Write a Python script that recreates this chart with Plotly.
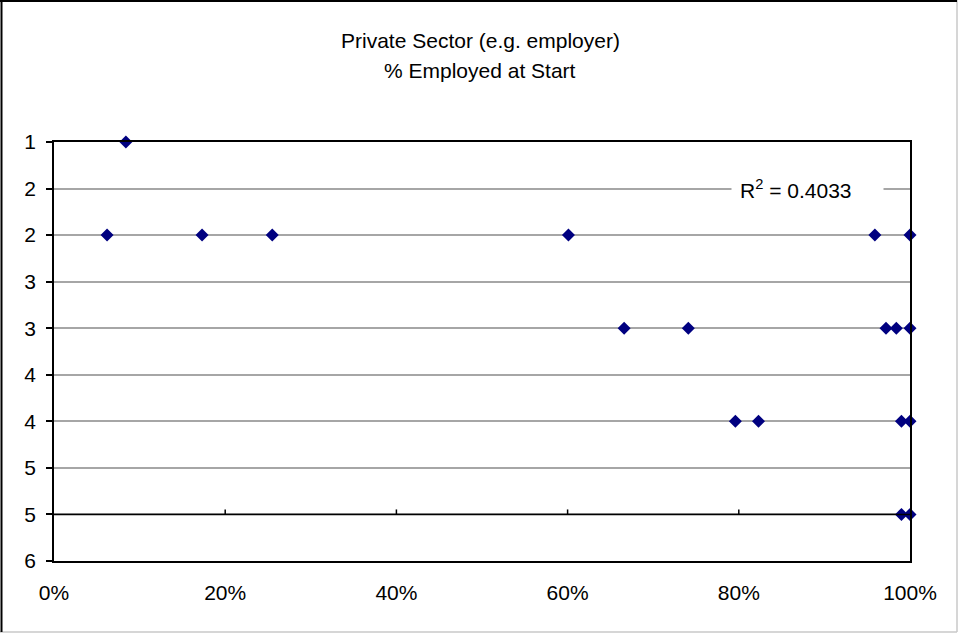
import plotly.graph_objects as go

# ---- data ----
pct_employed = [0.084,
                0.062, 0.173, 0.255, 0.601, 0.959, 1.000,
                0.666, 0.741, 0.972, 0.984, 1.000,
                0.796, 0.823, 0.990, 1.000,
                0.990, 1.000]
rating = [1,
          2, 2, 2, 2, 2, 2,
          3, 3, 3, 3, 3,
          4, 4, 4, 4,
          5, 5]
y_tickvals = [1, 1.5, 2, 2.5, 3, 3.5, 4, 4.5, 5, 5.5]
y_ticktext = ["1", "2", "2", "3", "3", "4", "4", "5", "5", "6"]
x_tickvals = [0, 0.2, 0.4, 0.6, 0.8, 1.0]
x_minor_ticks = [0.2, 0.4, 0.6, 0.8]
r2_text = "R<sup>2</sup> = 0.4033"
title_lines = ["Private Sector (e.g. employer)", "% Employed at Start"]

W, H = 960, 633
ML, MR, MT, MB = 54, 50, 142, 72
PW, PH = W - ML - MR, H - MT - MB

def px_x(px):
    return (px - ML) / PW

def px_y(py):
    return (H - MB - py) / PH

FONT = "Liberation Sans, Arial, sans-serif"
FS = 21

fig = go.Figure()
fig.add_trace(go.Scatter(
    x=pct_employed, y=rating, mode="markers",
    marker=dict(symbol="diamond", size=10, color="#000080",
                line=dict(width=0)),
    cliponaxis=False, showlegend=False, hoverinfo="x+y"))

shapes = []
# x axis line crossing at y = 5
shapes.append(dict(type="line", xref="x", yref="y", x0=0, x1=1, y0=5, y1=5,
                   line=dict(color="black", width=1.5), layer="above"))
for xv in x_minor_ticks:
    shapes.append(dict(type="line", xref="x", yref="y", ysizemode="pixel",
                       yanchor=5, x0=xv, x1=xv, y0=0, y1=5,
                       line=dict(color="black", width=1.5), layer="above"))
# outer chart frame
shapes.append(dict(type="line", xref="paper", yref="paper",
                   x0=px_x(0), x1=px_x(957), y0=px_y(632), y1=px_y(632),
                   line=dict(color="#c8c8c8", width=1.5)))
shapes.append(dict(type="line", xref="paper", yref="paper",
                   x0=px_x(957), x1=px_x(957), y0=px_y(0), y1=px_y(632),
                   line=dict(color="#c8c8c8", width=1.5)))
shapes.append(dict(type="line", xref="paper", yref="paper",
                   x0=px_x(0), x1=px_x(957), y0=px_y(1), y1=px_y(1),
                   line=dict(color="black", width=2)))
shapes.append(dict(type="line", xref="paper", yref="paper",
                   x0=px_x(1.5), x1=px_x(1.5), y0=px_y(0), y1=px_y(632),
                   line=dict(color="black", width=2)))

annotations = [
    dict(text=title_lines[0], xref="paper", yref="paper", x=px_x(480), y=px_y(40),
         yanchor="middle", xanchor="center", showarrow=False,
         font=dict(family=FONT, size=FS, color="black")),
    dict(text=title_lines[1], xref="paper", yref="paper", x=px_x(480), y=px_y(70),
         yanchor="middle", xanchor="center", showarrow=False,
         font=dict(family=FONT, size=FS, color="black")),
    dict(text=r2_text, xref="x", yref="y", x=0.8803, y=1.5, showarrow=False,
         yanchor="middle", xanchor="center",
         bgcolor="white", width=135, align="left", borderpad=8,
         font=dict(family=FONT, size=FS, color="black")),
]

fig.update_layout(
    width=W, height=H,
    margin=dict(l=ML, r=MR, t=MT, b=MB),
    paper_bgcolor="white", plot_bgcolor="white",
    font=dict(family=FONT, size=FS, color="black"),
    shapes=shapes, annotations=annotations,
    xaxis=dict(range=[0, 1], tickvals=x_tickvals, tickformat=".0%",
               showgrid=False, zeroline=False, showline=True, mirror=True,
               linecolor="black", linewidth=1.5, ticks="",
               ticklabelstandoff=12, fixedrange=True),
    yaxis=dict(range=[5.5, 1], tickvals=y_tickvals, ticktext=y_ticktext,
               showgrid=True, gridcolor="#a6a6a6", gridwidth=1.5,
               zeroline=False, showline=True, mirror=True,
               linecolor="black", linewidth=1.5, ticks="outside", ticklen=6,
               tickcolor="black", tickwidth=1.5, ticklabelstandoff=6,
               fixedrange=True),
)

fig.write_html("out.html")
